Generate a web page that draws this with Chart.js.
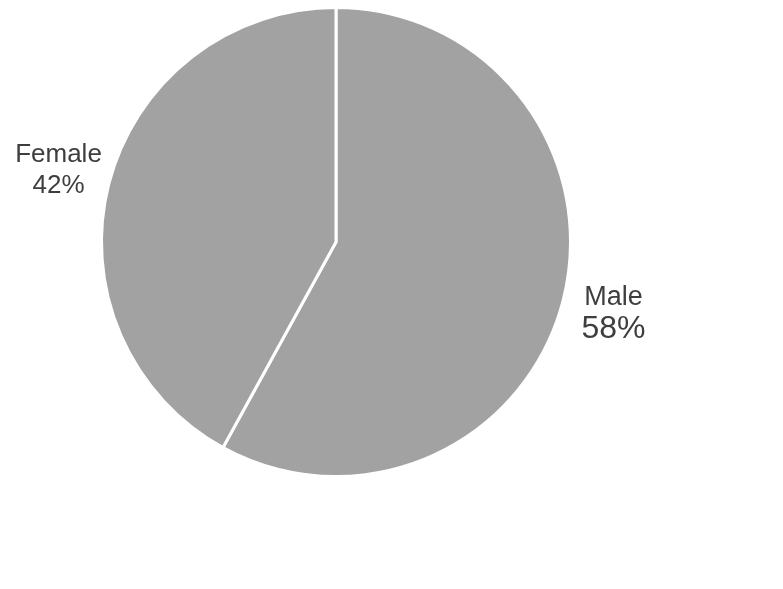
<!DOCTYPE html>
<html>
<head>
<meta charset="utf-8">
<script src="https://cdn.jsdelivr.net/npm/chart.js@4"></script>
<style>
    html, body { margin: 0; padding: 0; background: #fff; }
    #wrap { width: 783px; height: 589px; position: relative; }
</style>
</head>
<body>
<div id="wrap"><canvas id="chart"></canvas></div>
<script>
    var categories = ['Male', 'Female'];
    var shares = [58, 42];
    var nameSizes = [27, 26];
    var pctSizes = [32, 26];

    // draws "Name / NN%" outside each slice, on the slice's middle angle
    var outsideLabels = {
        id: 'outsideLabels',
        afterDatasetsDraw: function (chart) {
            var ctx = chart.ctx;
            var meta = chart.getDatasetMeta(0);
            meta.data.forEach(function (arc, i) {
                var mid = (arc.startAngle + arc.endAngle) / 2;
                var r = arc.outerRadius + 52;
                var x = arc.x + Math.cos(mid) * r;
                var y = arc.y + Math.sin(mid) * r;
                var gap = 31;
                ctx.save();
                ctx.fillStyle = '#3e3e3e';
                ctx.textAlign = 'center';
                ctx.textBaseline = 'middle';
                ctx.font = nameSizes[i] + 'px "Liberation Sans", Arial, sans-serif';
                ctx.fillText(categories[i], x, y - gap / 2);
                ctx.font = pctSizes[i] + 'px "Liberation Sans", Arial, sans-serif';
                ctx.fillText(shares[i] + '%', x, y + gap / 2);
                ctx.restore();
            });
        }
    };

    new Chart(document.getElementById('chart'), {
        type: 'pie',
        data: {
            labels: categories,
            datasets: [{
                data: shares,
                backgroundColor: ['#a2a2a2', '#a2a2a2'],
                borderColor: '#ffffff',
                borderWidth: 3
            }]
        },
        options: {
            responsive: true,
            maintainAspectRatio: false,
            animation: false,
            layout: {
                padding: { top: 6, bottom: 111, left: 100, right: 211 }
            },
            plugins: {
                legend: { display: false },
                tooltip: { enabled: false }
            }
        },
        plugins: [outsideLabels]
    });
</script>
</body>
</html>
